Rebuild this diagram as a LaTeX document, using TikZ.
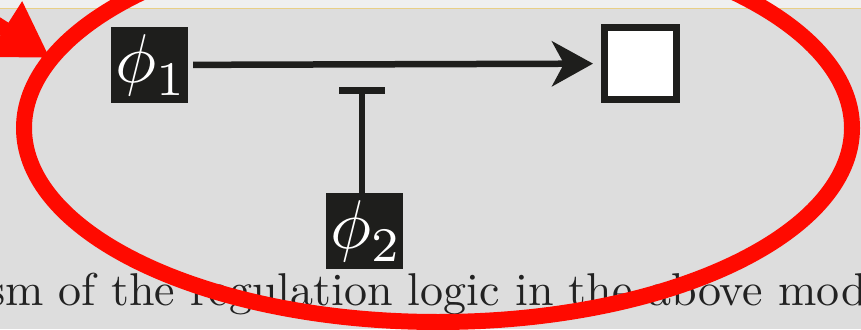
\RequirePackage{fix-cm}
\documentclass[tikz,border=0pt]{standalone}
\usetikzlibrary{arrows.meta,calc,positioning}
\definecolor{pageF}{HTML}{DDDDDD}
\definecolor{headF}{HTML}{EFEFEF}
\definecolor{ruleC}{HTML}{E8CF86}
\definecolor{inkC}{HTML}{1E1E1C}
\definecolor{textC}{HTML}{222222}
\definecolor{markC}{HTML}{FF0A00}
\tikzset{
  var/.style={fill=inkC, text=white, inner sep=0pt, minimum width=77pt, minimum height=76pt,
              font=\fontsize{10}{12}\selectfont},
  outbox/.style={draw=inkC, fill=white, line width=7pt, minimum size=72pt, inner sep=0pt},
  act/.style={-{Stealth[length=41pt,width=45pt,inset=12pt]}, draw=inkC, line width=6.5pt,
              shorten <=5pt, shorten >=8pt},
  inhib/.style={-{Bar[width=46pt,line width=7.3pt]}, draw=inkC, line width=6.5pt},
  caption/.style={font=\fontsize{10}{12}\selectfont, text=textC, inner sep=0pt},
  redring/.style={draw=markC, line width=16pt},
  redarrow/.style={-{Triangle[length=54pt,width=62pt]}, draw=markC, fill=markC, line width=15pt},
}
\newcommand\bigvar[2]{\scalebox{6.9}{$#1$\raisebox{-1.9pt}{\fontsize{7}{9}\selectfont #2}}}
\newcommand\bigtext[1]{\scalebox{4.6}{#1}}

\begin{document}
\begin{tikzpicture}[x=1pt, y=-1pt]
\useasboundingbox (0,0) rectangle (861,329);
\clip (0,0) rectangle (861,329);
\fill[pageF] (0,0) rectangle (861,329);
\fill[headF] (0,0) rectangle (861,8);
\draw[ruleC, line width=1.3pt] (0,8.7) -- (861,8.7);
\node[caption, anchor=base west] (cap) at (-13,305) {\bigtext{sm of the regulation logic in the above mod}};
% regulation diagram
\node[var] (phi1) at (149.5,65) {\bigvar{\phi}{1}};
\node[outbox] (out) at (640.5,63.5) {};
\node[var] (phi2) at (364.5,231) {\bigvar{\phi}{2}};
\coordinate (block) at (362,65);
\draw[act] (phi1) -- (out);
\draw[inhib] (phi2.north -| block) -- ($(block)+(0,21.7)$);
% highlight
\draw[redring] (438,128) ellipse [x radius=414pt, y radius=194pt];
\coordinate (ptail) at (-60,-12);
\coordinate (ptip) at (50,58);
\draw[redarrow] (ptail) -- (ptip);
\end{tikzpicture}
\end{document}
